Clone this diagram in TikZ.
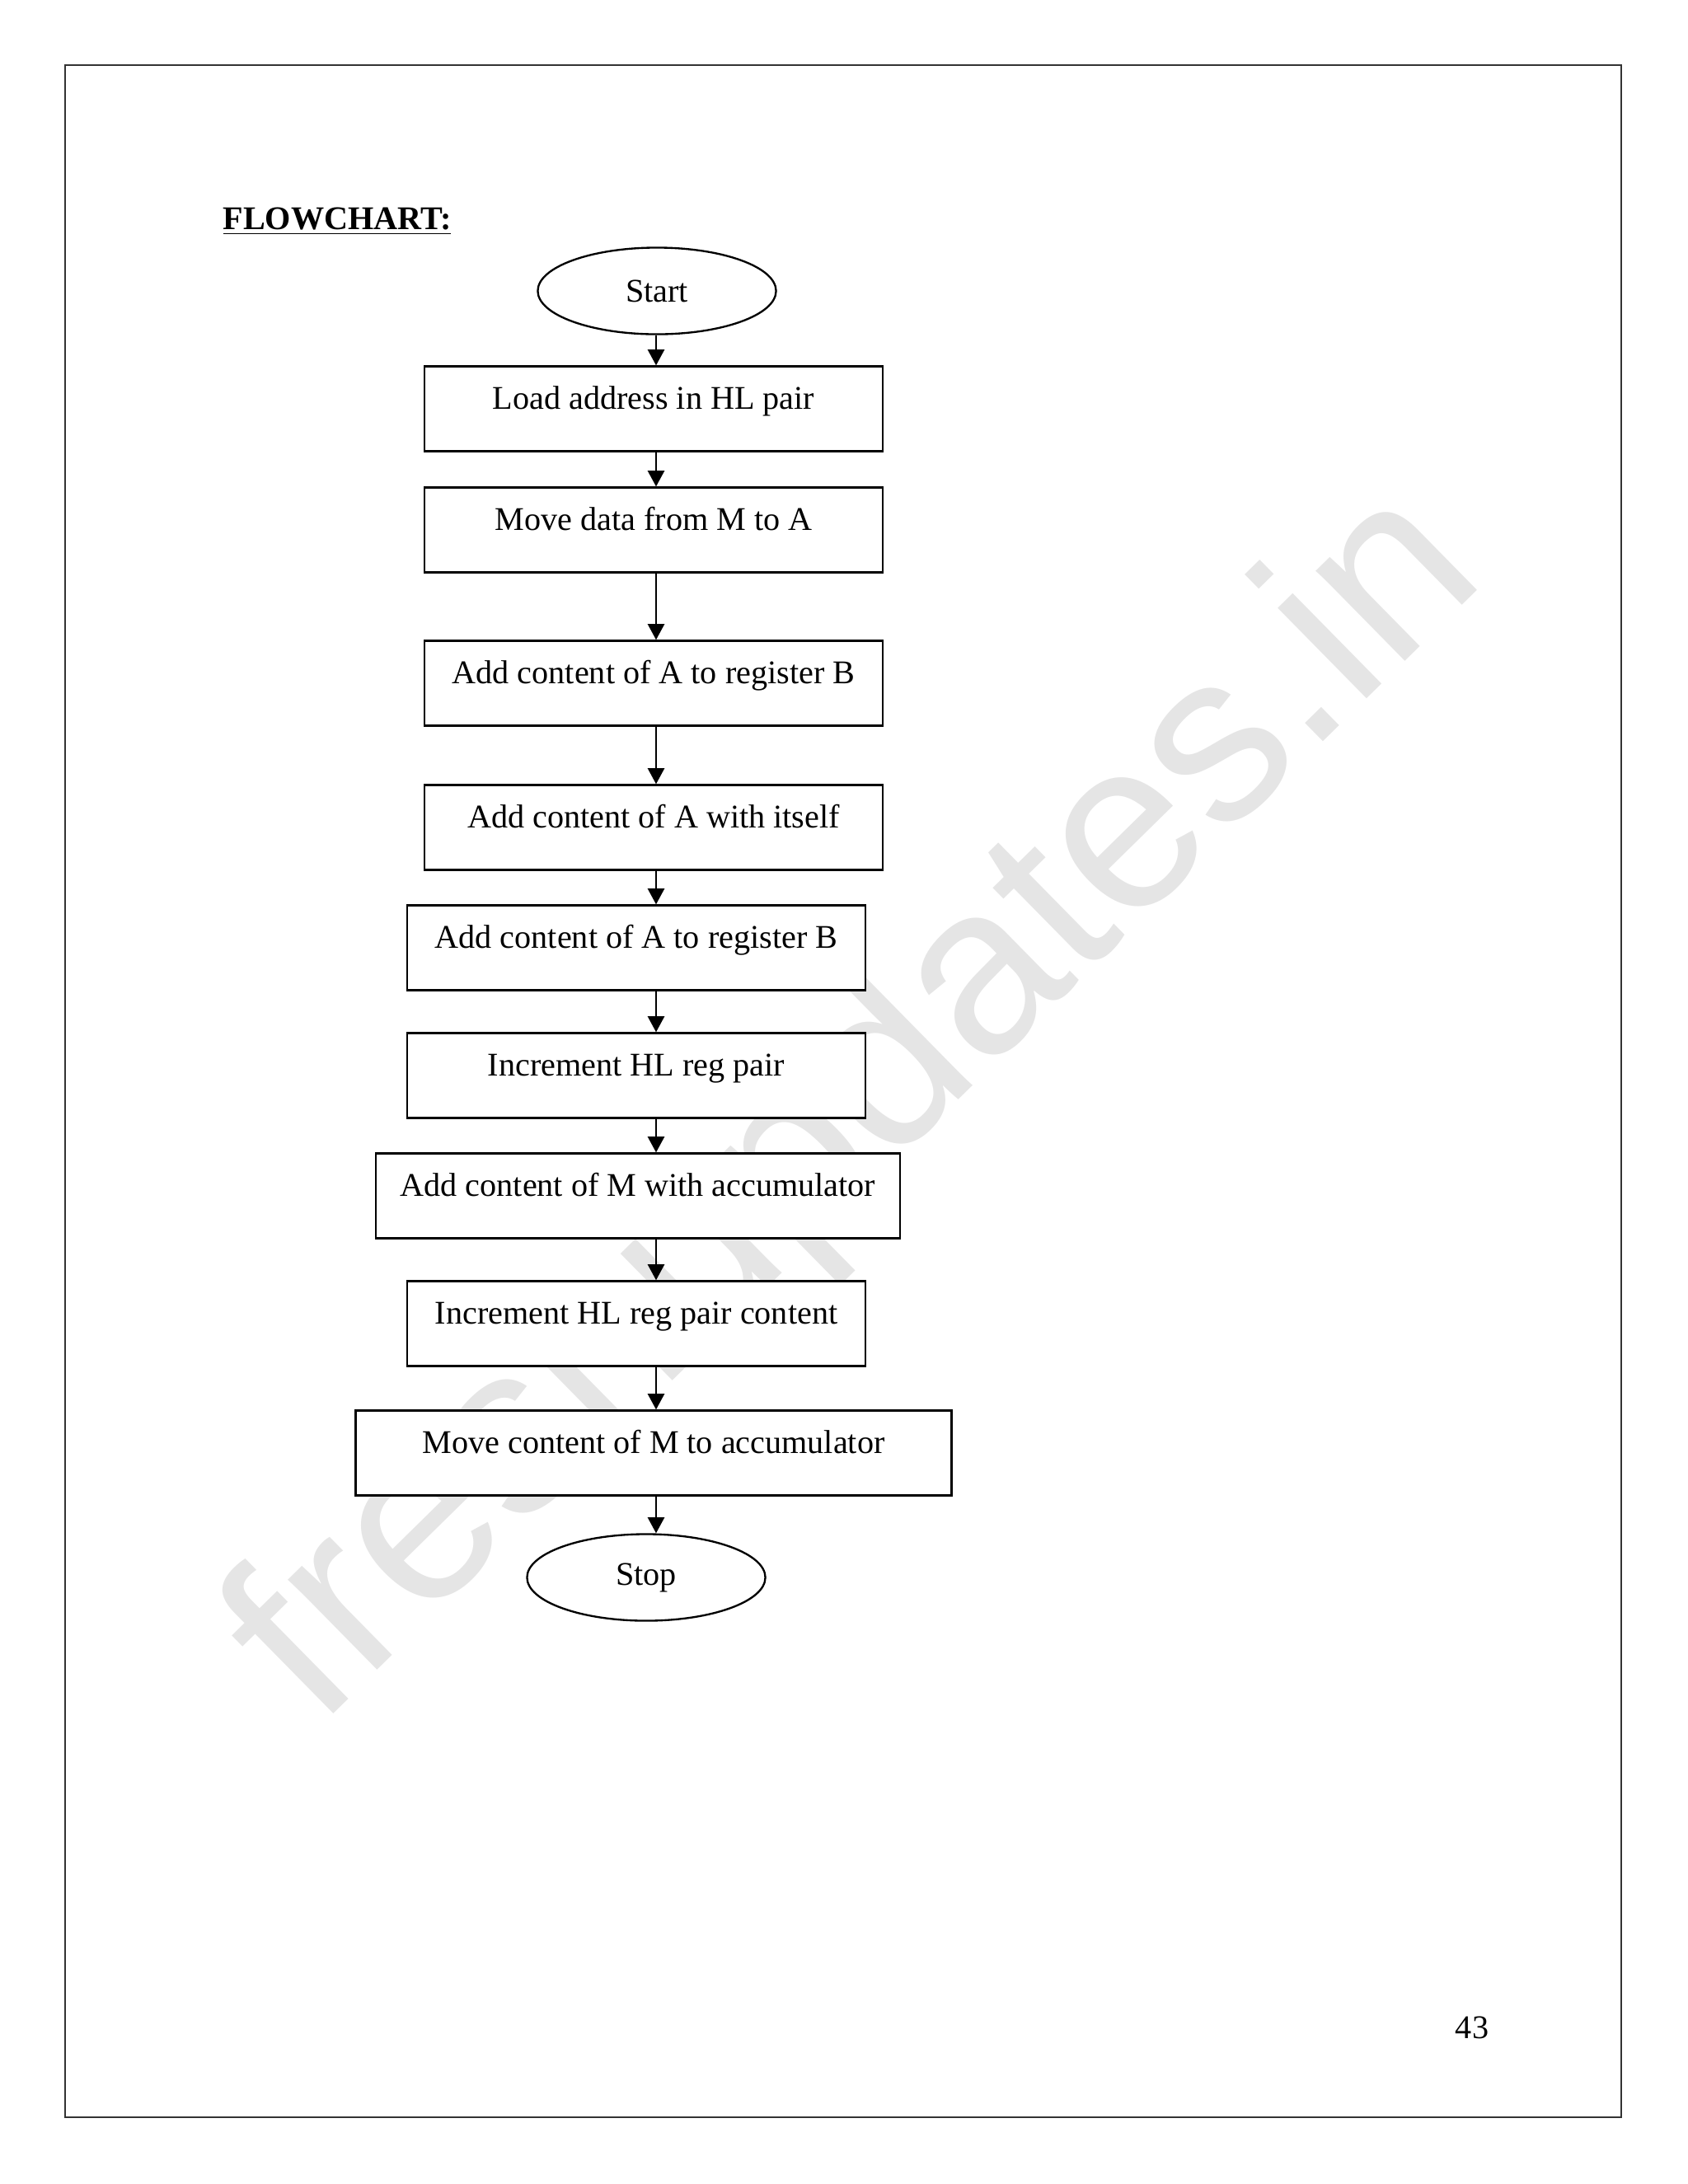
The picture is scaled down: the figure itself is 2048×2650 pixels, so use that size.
\documentclass[tikz,border=0pt]{standalone}
\usepackage{fontspec}
\setmainfont{Liberation Serif}
\newfontfamily\wmfont{Liberation Sans}
\usetikzlibrary{shapes.geometric,arrows.meta}

\tikzset{
  procbox/.style={draw, rectangle, fill=white, line width=0.7pt, minimum height=30.8pt, inner sep=0pt, text height=8.5pt, text depth=8.5pt},
  termnode/.style={draw, ellipse, fill=white, line width=0.7pt, minimum width=86.4pt, minimum height=31.4pt, inner sep=0pt},
  arr/.style={-{Triangle[length=5.7pt,width=6pt]}, line width=0.6pt},
  wmark/.style={text=black!10, font=\wmfont\fontsize{87}{90}\selectfont, inner sep=0pt}
}

\begin{document}
\begin{tikzpicture}[x=0.29883pt, y=-0.29883pt, font=\fontsize{12}{14.4}\selectfont]%[node distance=2cm,thick]
  \useasboundingbox (0,0) rectangle (2048,2650);
  \draw[line width=0.6pt, black!80] (79,79) rectangle (1967,2569);
  \node[wmark, anchor=base, rotate=44.5] (wm) at (1096,1400) {freshupdates.in};
  \node[anchor=base west, font=\fontsize{12}{14.4}\selectfont\bfseries, inner sep=0pt] (title) at (270,278) {\underline{FLOWCHART:}};
  \coordinate (spine) at (796,0);
  \node[termnode] (start) at (797,353) {Start};
  \node[procbox, minimum width=166pt] (load) at (793,496) {Load address in HL pair};
  \node[procbox, minimum width=166pt] (movedata) at (793,643) {Move data from M to A};
  \node[procbox, minimum width=166pt] (addab) at (793,829) {Add content of A to register B};
  \node[procbox, minimum width=166pt] (addaa) at (793,1004) {Add content of A with itself};
  \node[procbox, minimum width=166pt] (addabtwo) at (772,1150) {Add content of A to register B};
  \node[procbox, minimum width=166pt] (inchl) at (772,1305) {Increment HL reg pair};
  \node[procbox, minimum width=190pt] (addm) at (774,1451) {Add content of M with accumulator};
  \node[procbox, minimum width=166pt] (inchltwo) at (772,1606) {Increment HL reg pair content};
  \node[procbox, minimum width=216pt] (movem) at (793,1763) {Move content of M to accumulator};
  \node[termnode] (stop) at (784,1914) {Stop};
  \path[arr] (start.south -| spine) edge (load.north -| spine)
    (load.south -| spine) edge (movedata.north -| spine)
    (movedata.south -| spine) edge (addab.north -| spine)
    (addab.south -| spine) edge (addaa.north -| spine)
    (addaa.south -| spine) edge (addabtwo.north -| spine)
    (addabtwo.south -| spine) edge (inchl.north -| spine)
    (inchl.south -| spine) edge (addm.north -| spine)
    (addm.south -| spine) edge (inchltwo.north -| spine)
    (inchltwo.south -| spine) edge (movem.north -| spine)
    (movem.south -| spine) edge (stop.north -| spine);
  \node (pagenum) at (1786,2460) {43};
\end{tikzpicture}
\end{document}
